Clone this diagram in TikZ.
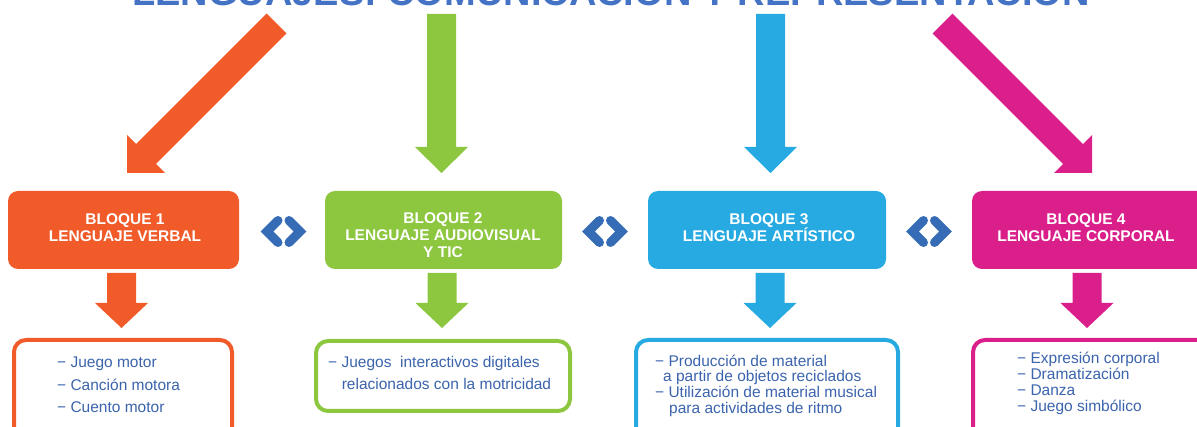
\documentclass[tikz,border=0pt]{standalone}
\usepackage{fontspec}
\setmainfont{Liberation Sans}
\usetikzlibrary{calc}
\definecolor{cOr}{HTML}{F15A29}
\definecolor{cGr}{HTML}{8DC63F}
\definecolor{cBl}{HTML}{27AAE1}
\definecolor{cPk}{HTML}{DA1F8B}
\definecolor{cChev}{HTML}{356CB5}
\definecolor{cTxt}{HTML}{3B64AD}
\definecolor{cTitle}{HTML}{4472C4}
\newcommand\myVArrow[5]{\fill[#1] (#2-14.5,#3) -- (#2+14.5,#3) -- (#2+14.5,#4) -- (#2+26.5,#4) -- (#2,#5) -- (#2-26.5,#4) -- (#2-14.5,#4) -- cycle;}
\begin{document}
\begin{tikzpicture}[x=1pt,y=-1pt,
  topbox/.style={fill=#1, draw=none, rounded corners=10pt, minimum height=78pt, inner sep=0pt},
  toptext/.style={text=white, align=center, inner sep=0pt, font=\fontsize{15.5}{17}\selectfont\bfseries},
  botbox/.style={draw=#1, fill=white, line width=4pt, rounded corners=12pt, inner sep=0pt},
  bottext/.style={text=cTxt, align=left, inner sep=0pt, anchor=west},
  chev/.style={draw=cChev, line width=9pt, line cap=round, line join=miter}
]
\useasboundingbox (0,0) rectangle (1197,427);
\clip (0,0) rectangle (1197,427);
% title (cut by the top edge)
\node[font=\fontsize{38}{40}\selectfont\bfseries, text=cTitle, anchor=base, inner sep=0pt] (title) at (611,6) {LENGUAJES: COMUNICACIÓN Y REPRESENTACIÓN};
% big arrows
\fill[cOr] (266.6,13.6) -- (286.4,33.4) -- (155.9,163.9) -- (165,173) -- (127,173) -- (127,135) -- (136.1,144.1) -- cycle;
\myVArrow{cGr}{441.5}{14}{147}{173}
\myVArrow{cBl}{770.5}{14}{147}{173}
\fill[cPk] (952.4,13.6) -- (932.6,33.4) -- (1063.1,163.9) -- (1054,173) -- (1092,173) -- (1092,135) -- (1082.9,144.1) -- cycle;
% top boxes
\node[topbox=cOr, minimum width=231pt] (b1) at (123.5,230) {};
\node[topbox=cGr, minimum width=237pt] (b2) at (443.5,230) {};
\node[topbox=cBl, minimum width=238pt] (b3) at (767,230) {};
\node[topbox=cPk, minimum width=240pt] (b4) at (1092,230) {};
\node[toptext] (t1) at (125,228) {BLOQUE 1\\LENGUAJE VERBAL};
\node[toptext] (t2) at (443,235.5) {BLOQUE 2\\LENGUAJE AUDIOVISUAL\\Y TIC};
\node[toptext] (t3) at (769,227.5) {BLOQUE 3\\LENGUAJE ARTÍSTICO};
\node[toptext] (t4) at (1086,228) {BLOQUE 4\\LENGUAJE CORPORAL};
% chevrons between blocks
\foreach \c in {283.5,605,929}{
  \draw[chev] (\c-5.5,220.5) -- (\c-16.5,231.5) -- (\c-5.5,242.5);
  \draw[chev] (\c+5.5,220.5) -- (\c+16.5,231.5) -- (\c+5.5,242.5);
}
% small arrows
\myVArrow{cOr}{121.5}{273}{303}{328}
\myVArrow{cGr}{442}{273}{303}{328}
\myVArrow{cBl}{770}{273}{303}{328}
\myVArrow{cPk}{1087}{273}{303}{328}
% bottom boxes
\node[botbox=cOr, minimum width=218pt, minimum height=110pt] (o1) at (123,395) {};
\node[botbox=cGr, minimum width=254pt, minimum height=70pt] (o2) at (443,376) {};
\node[botbox=cBl, minimum width=262pt, minimum height=110pt] (o3) at (767,395) {};
\node[botbox=cPk, minimum width=240pt, minimum height=110pt] (o4) at (1093,395) {};
\node[bottext, font=\fontsize{15.5}{22.5}\selectfont] (x1) at (57,385) {− Juego motor\\− Canción motora\\− Cuento motor};
\node[bottext, font=\fontsize{15.5}{22}\selectfont] (x2) at (328,373) {− Juegos\ \ interactivos digitales\\\hspace*{13.6pt}relacionados con la motricidad};
\node[bottext, font=\fontsize{15.5}{15.7}\selectfont] (x3) at (655,385.5) {− Producción de material\\\hspace*{8pt}a partir de objetos reciclados\\− Utilización de material musical\\\hspace*{14pt}para actividades de ritmo};
\node[bottext, font=\fontsize{15.5}{16}\selectfont] (x4) at (1017,383) {− Expresión corporal\\− Dramatización\\− Danza\\− Juego simbólico};
\end{tikzpicture}
\end{document}
